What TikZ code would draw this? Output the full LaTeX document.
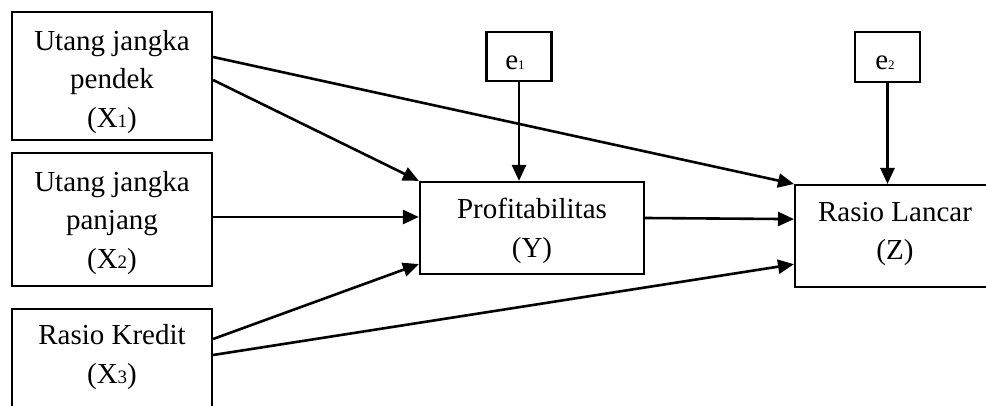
\documentclass[tikz,border=0pt]{standalone}
\usepackage{fontspec}
\setmainfont{Liberation Serif}
\usetikzlibrary{arrows.meta,calc}
\newcommand{\sbx}[1]{{\fontsize{19}{19}\selectfont #1}}
\newcommand{\sbe}[1]{{\fontsize{13}{13}\selectfont #1}}
\tikzset{
  box/.style={draw=black, line width=2.2pt, fill=white, inner sep=0pt},
  txt/.style={align=center, inner sep=0pt, font=\fontsize{29}{38.5}\selectfont},
  arr/.style={line width=2.6pt, -{Triangle[length=16pt,width=14pt]}},
}
\begin{document}
\begin{tikzpicture}[x=1pt,y=-1pt]
\clip (0,0) rectangle (986,406);
\fill[white] (0,0) rectangle (986,406);
% boxes
\node[box, minimum width=200pt, minimum height=128pt] (x1) at (112,76) {};
\node[box, minimum width=200pt, minimum height=133pt] (x2) at (112,219.5) {};
\node[box, minimum width=200pt, minimum height=150pt, anchor=north] (x3) at (112,308) {};
\node[box, minimum width=224pt, minimum height=92pt] (y) at (532,228) {};
\node[box, minimum width=204pt, minimum height=102pt, anchor=north west] (z) at (794,184) {};
\node[box, minimum width=65pt, minimum height=49pt] (e1) at (519,56.5) {};
\node[box, minimum width=65pt, minimum height=50pt] (e2) at (887.5,57) {};
% texts
\node[txt] (x1t) at (112,82) {Utang jangka\\pendek\\(X\sbx{1})};
\node[txt] (x2t) at (112,223) {Utang jangka\\panjang\\(X\sbx{2})};
\node[txt] (x3t) at (112,357) {Rasio Kredit\\(X\sbx{3})};
\node[txt] (yt) at (532,231) {Profitabilitas\\(Y)};
\node[txt] (zt) at (895,234) {Rasio Lancar\\(Z)};
\node[txt, anchor=base] (e1t) at (515,70) {e\sbe{1}};
\node[txt, anchor=base] (e2t) at (885,70) {e\sbe{2}};
% connectors
\draw[arr] ($(x1.east)+(0,4)$) -- (y.north west);
\draw[arr] ($(x1.east)+(0,-19)$) -- (z.north west);
\draw[arr] ($(x2.east)+(0,-2.5)$) -- ($(y.west)+(0,-11)$);
\draw[arr] ($(x3.north east)+(0,31)$) -- ($(y.south west)+(0,-11)$);
\draw[arr] ($(x3.north east)+(0,47)$) -- ($(z.south west)+(0,-24)$);
\draw[arr] ($(y.east)+(0,-10)$) -- ($(z.west)+(0,-17)$);
\draw[arr] (e1.south) -- (e1.south |- y.north);
\draw[arr] (e2.south) -- (e2.south |- z.north);
\end{tikzpicture}
\end{document}
